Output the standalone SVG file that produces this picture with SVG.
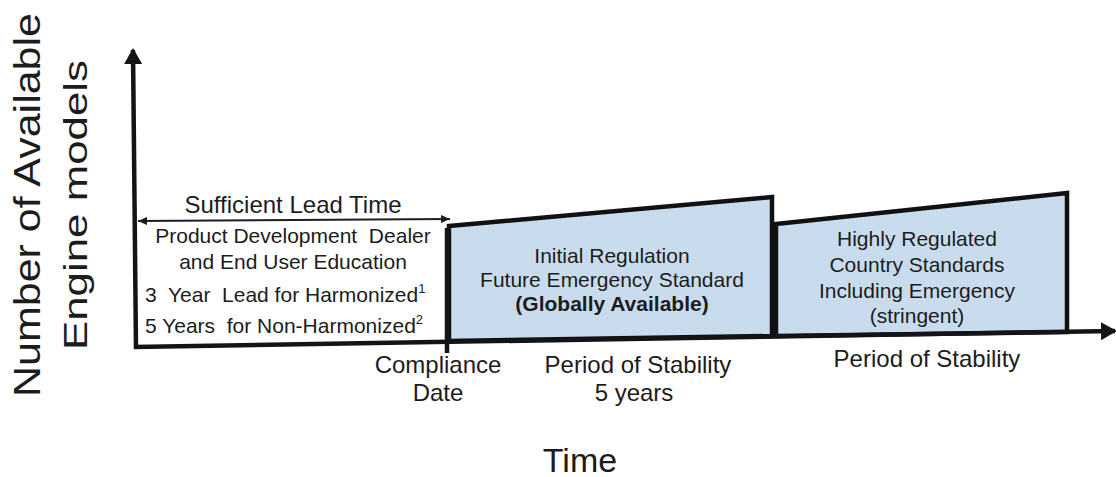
<svg xmlns="http://www.w3.org/2000/svg" width="1116" height="477" viewBox="0 0 1116 477">
  <style>
    text { font-family: "Liberation Sans", Arial, sans-serif; fill: #1c1c1c; }
    .axis { stroke: #141418; stroke-width: 4.5; fill: none; }
    .lead { stroke: #1c1c24; stroke-width: 2; fill: none; }
    .box { fill: #c9dcee; stroke: #111; stroke-width: 4.5; stroke-linejoin: miter; }
    .mid { text-anchor: middle; }
    .f21 { font-size: 21px; }
    .f24 { font-size: 24px; }
  </style>
  <defs>
    <marker id="bigHead" viewBox="0 0 16 18" refX="14" refY="9" markerWidth="16" markerHeight="18" markerUnits="userSpaceOnUse" orient="auto">
      <path d="M0,0 L16,9 L0,18 z" fill="#141418"/>
    </marker>
    <marker id="smallHead" viewBox="0 0 9 8" refX="9" refY="4" markerWidth="9" markerHeight="8" markerUnits="userSpaceOnUse" orient="auto-start-reverse">
      <path d="M0,0 L9,4 L0,8 z" fill="#1c1c24"/>
    </marker>
  </defs>

  <!-- axis titles -->
  <g id="y-title">
    <text class="mid" transform="translate(40,205) rotate(-90)" font-size="36" textLength="384" lengthAdjust="spacingAndGlyphs">Number of Available</text>
    <text class="mid" transform="translate(87,205) rotate(-90)" font-size="34" textLength="290" lengthAdjust="spacingAndGlyphs">Engine models</text>
  </g>
  <g id="x-title">
    <text class="mid" x="580" y="472" font-size="34">Time</text>
  </g>

  <!-- regulation periods -->
  <g id="initial-regulation">
    <polygon class="box" points="449,226 772,197 772,336 449,341"/>
    <text class="mid f21" x="612" y="263">Initial Regulation</text>
    <text class="mid f21" x="612" y="287">Future Emergency Standard</text>
    <text class="mid f21" x="612" y="311" font-weight="bold">(Globally Available)</text>
  </g>
  <g id="highly-regulated">
    <polygon class="box" points="776,224 1067,193 1067,332 776,336"/>
    <text class="mid f21" x="917" y="246">Highly Regulated</text>
    <text class="mid f21" x="917" y="272">Country Standards</text>
    <text class="mid f21" x="917" y="298">Including Emergency</text>
    <text class="mid f21" x="917" y="323">(stringent)</text>
  </g>

  <!-- axes, lead-time span and compliance tick -->
  <g id="connectors">
    <path class="axis" d="M136,349 L133,50" marker-end="url(#bigHead)"/>
    <path class="axis" d="M134,347 L1115,331" marker-end="url(#bigHead)"/>
    <path class="lead" d="M138,221 L450,219" marker-start="url(#smallHead)" marker-end="url(#smallHead)"/>
    <path class="axis" d="M447,228 L447,353"/>
  </g>

  <g id="lead-time">
    <text class="mid" x="293" y="213" font-size="24">Sufficient Lead Time</text>
    <text class="mid f21" x="293" y="243" xml:space="preserve">Product Development  Dealer</text>
    <text class="mid f21" x="293" y="269">and End User Education</text>
    <text class="f21" x="145" y="302" xml:space="preserve">3  Year  Lead for Harmonized<tspan font-size="13" dy="-9">1</tspan></text>
    <text class="f21" x="145" y="333" xml:space="preserve">5 Years  for Non-Harmonized<tspan font-size="13" dy="-9">2</tspan></text>
  </g>

  <g id="compliance-date">
    <text class="mid f24" x="438" y="373">Compliance</text>
    <text class="mid f24" x="438" y="401">Date</text>
  </g>
  <g id="stability-1">
    <text class="mid f24" x="638" y="373">Period of Stability</text>
    <text class="mid f24" x="634" y="401">5 years</text>
  </g>
  <g id="stability-2">
    <text class="mid f24" x="927" y="367">Period of Stability</text>
  </g>
</svg>
